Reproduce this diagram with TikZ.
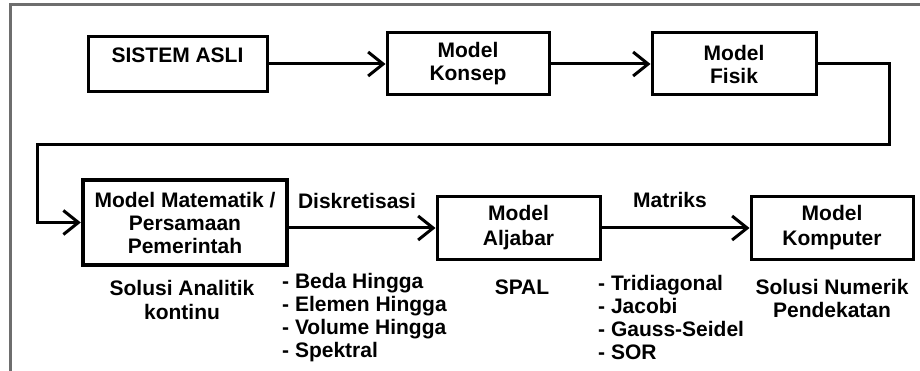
\documentclass[tikz,border=0pt]{standalone}
\usepackage{fontspec}
\setmainfont{Liberation Sans}
\usetikzlibrary{arrows.meta}
\definecolor{framegray}{RGB}{110,110,110}
\tikzset{
  box/.style={draw=black, line width=3pt, inner sep=0pt, align=center, fill=white},
  thickbox/.style={box, line width=4.5pt},
  txt/.style={inner sep=0pt, align=center, font=\fontsize{21}{23}\selectfont\bfseries},
  listtxt/.style={inner sep=0pt, align=left, anchor=west, font=\fontsize{21}{23}\selectfont\bfseries},
  conn/.style={line width=3pt, line join=miter},
  arr/.style={conn, -{Straight Barb[length=15pt,width=24pt,line width=3pt]}},
}
\begin{document}
\begin{tikzpicture}[x=1pt,y=-1pt]
\useasboundingbox (0,0) rectangle (920,371);
% outer frame
\coordinate (fbl) at (10,375);
\coordinate (ftl) at (10,5);
\coordinate (ftr) at (925,5);
\draw[framegray, line width=3pt] (fbl) -- (ftl) -- (ftr);

% boxes
\node[box, minimum width=179pt, minimum height=55pt] (sistem) at (177.5,64.5) {};
\node[txt] (sistemtxt) at (177.5,55) {SISTEM ASLI};
\node[box, txt, line width=3pt, draw, minimum width=162pt, minimum height=62pt] (konsep) at (468,64) {Model\\Konsep};
\node[box, txt, line width=3pt, draw, minimum width=164pt, minimum height=62pt] (fisik) at (734,64) {Model\\Fisik};
\node[thickbox, txt, line width=4.5pt, draw, minimum width=204pt, minimum height=85pt] (matematik) at (185,222.5) {Model Matematik /\\Persamaan\\Pemerintah};
\node[box, txt, line width=3pt, draw, minimum width=163pt, minimum height=62pt, font=\fontsize{21}{25}\selectfont\bfseries] (aljabar) at (518.5,228) {Model\\Aljabar};
\node[box, txt, line width=3pt, draw, minimum width=162pt, minimum height=62pt, font=\fontsize{21}{25}\selectfont\bfseries] (komputer) at (832,228) {Model\\Komputer};

% connectors
\draw[arr] (sistem.east |- konsep.west) -- (konsep.west);
\draw[arr] (konsep.east) -- (fisik.west);
\coordinate (cr) at (889,145);
\coordinate (cl) at (37,145);
\draw[arr] (fisik.east) -| (cr) -- (cl) |- (matematik.west);
\draw[arr] (matematik.east |- aljabar.west) -- (aljabar.west);
\draw[arr] (aljabar.east) -- (komputer.west);

% edge labels
\node[txt] (disk) at (357,201) {Diskretisasi};
\node[txt] (matriks) at (670,200) {Matriks};

% lower labels
\node[txt, font=\fontsize{21}{24}\selectfont\bfseries] (analitik) at (182,300) {Solusi Analitik\\kontinu};
\node[listtxt] (list1) at (282,317.6) {- Beda Hingga\\- Elemen Hingga\\- Volume Hingga\\- Spektral};
\node[txt] (spal) at (522,287) {SPAL};
\node[listtxt] (list2) at (598,317) {- Tridiagonal\\- Jacobi\\- Gauss-Seidel\\- SOR};
\node[txt] (numerik) at (832,298.4) {Solusi Numerik\\Pendekatan};
\end{tikzpicture}
\end{document}
